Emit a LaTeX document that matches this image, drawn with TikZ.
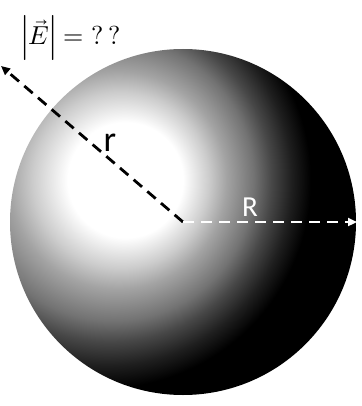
\documentclass[tikz,border=0pt]{standalone}
\usepackage{fontspec}
\usepackage{unicode-math}
\newfontfamily\labelfont{Carlito}
\usetikzlibrary{arrows.meta}
\pgfdeclareradialshading{glow}{\pgfpoint{5.625bp}{0bp}}{color(0bp)=(white); color(3.6bp)=(white); color(5.5bp)=(black!20); color(6.8bp)=(black!36); color(8.8bp)=(black!55); color(10.1bp)=(black!72); color(11.6bp)=(black!88); color(13bp)=(black); color(37.5bp)=(black)}
\tikzset{
  sphere/.style={circle, inner sep=0pt, minimum size=346pt},
  darrow/.style={dashed, dash pattern=on 11pt off 7pt, line width=2.8pt, -{Triangle[length=9pt,width=8pt]}},
  lab/.style={font=\labelfont\fontsize{29}{31}\selectfont, inner sep=0pt}
}
\begin{document}
\begin{tikzpicture}[x=1pt,y=-1pt]
\useasboundingbox (0,0) rectangle (361,406);
\coordinate (O) at (183,222);
\node[sphere] (ball) at (O) {};
\begin{scope}
  \clip (ball.center) circle (173pt);
  \shade[shading=glow] (44,180) circle (400pt);
\end{scope}
\coordinate (A) at (1,66);
\coordinate (B) at (357,222);
\draw[darrow, black] (O) -- (A);
\draw[darrow, white] (O) -- (B);
\node[lab, black, font=\labelfont\fontsize{36}{38}\selectfont] (r) at (110,143) {r};
\node[lab, white] (R) at (250,207) {R};
\node[inner sep=0pt, font=\fontsize{26}{31}\selectfont] (E) at (71,38) {$\Bigl|\vec{E}\Bigr| = ?\,?$};
\end{tikzpicture}
\end{document}
